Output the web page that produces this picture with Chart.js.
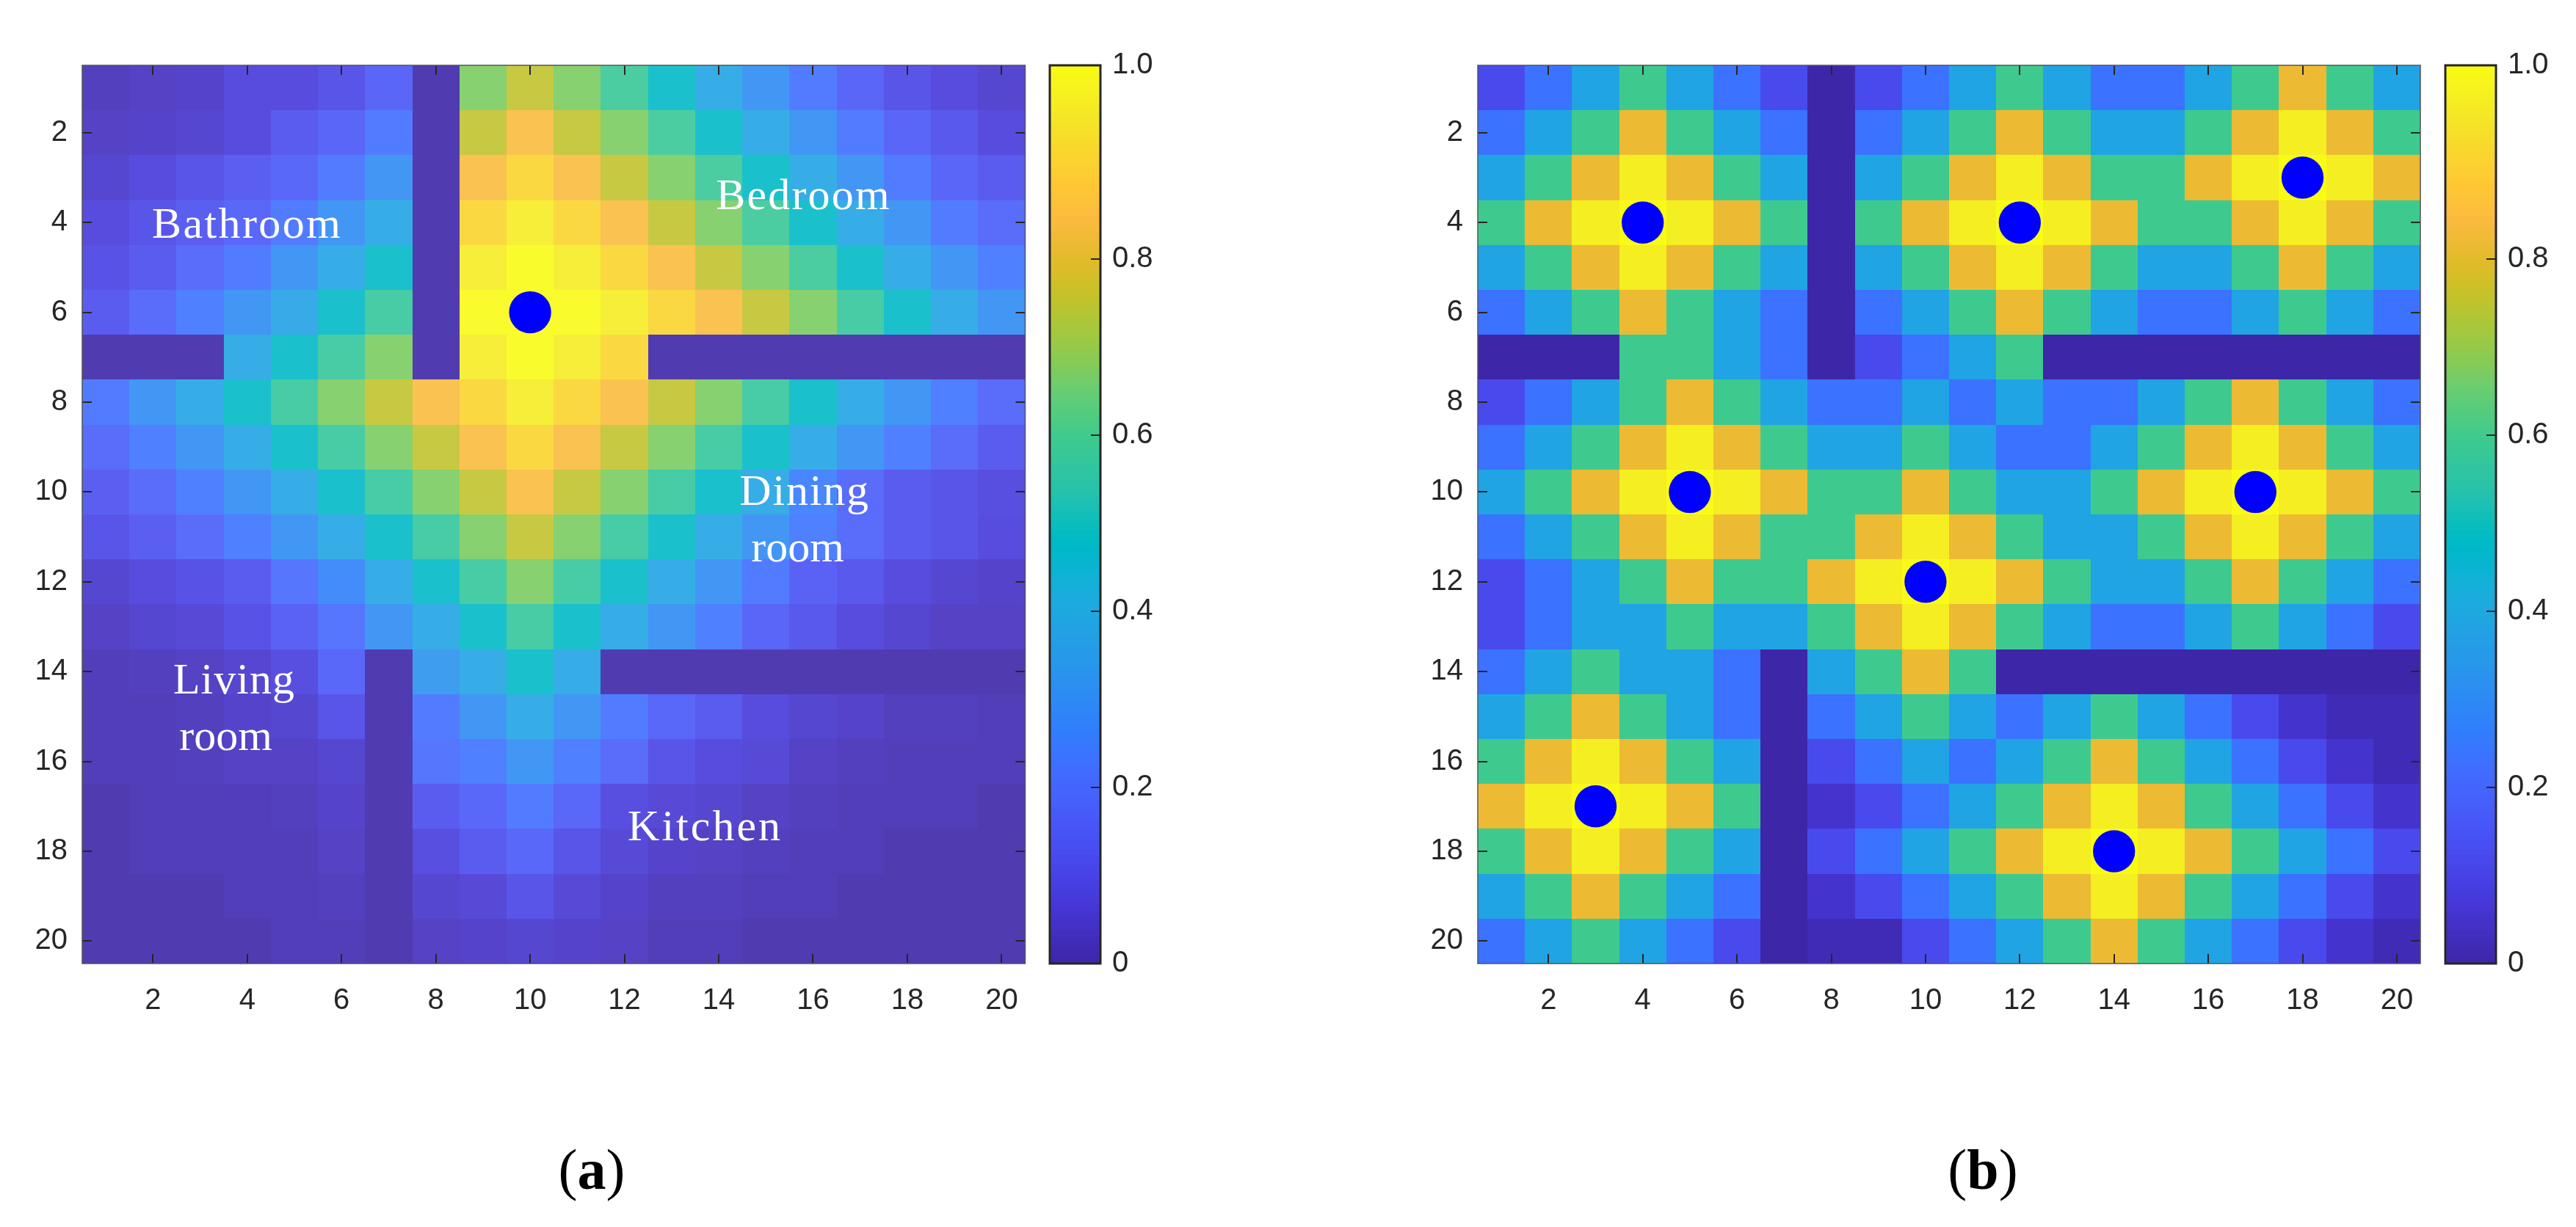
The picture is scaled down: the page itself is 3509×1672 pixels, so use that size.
<!DOCTYPE html>
<html lang="en">

<head>
    <meta charset="UTF-8">
    <title>Heat maps (a) and (b)</title>
    <script src="https://cdn.jsdelivr.net/npm/chart.js"></script>
    <style>
        html, body { margin: 0; background: #fff; }
        .page { position: relative; width: 3509px; height: 1672px; overflow: hidden; background: #fff; }
        canvas { position: absolute; top: 0; }
        #chartA { left: 0; }
        #barA { left: 1400px; }
        #chartB { left: 1900px; }
        #barB { left: 3300px; }
        .caption { position: absolute; top: 1546px; width: 300px; text-align: center; color: #000;
            font: 78px "Liberation Serif", serif; line-height: 96px; }
    </style>
</head>

<body>
    <div class="page">
        <canvas id="chartA" width="1400" height="1400"></canvas>
        <canvas id="barA" width="200" height="1400"></canvas>
        <canvas id="chartB" width="1400" height="1400"></canvas>
        <canvas id="barB" width="200" height="1400"></canvas>
        <div class="caption" style="left:656px">(<b>a</b>)</div>
        <div class="caption" style="left:2551px">(<b>b</b>)</div>
    </div>

<script>
// axis ticks
const tickValues = [2, 4, 6, 8, 10, 12, 14, 16, 18, 20];
const barTickValues = [0, 0.2, 0.4, 0.6, 0.8, 1.02];
const barTickLabels = ['0', '0.2', '0.4', '0.6', '0.8', '1.0'];

// access points, [column, row]
const pointsA = [[10, 6]];
const pointsB = [[4, 4], [12, 4], [18, 3], [5, 10], [17, 10], [10, 12], [3, 17], [14, 18]];

// (a), row 1 on top
const mapA = [
    [.02, .03, .04, .07, .07, .1, .15, 0, .66, .74, .66, .57, .47, .38, .3, .22, .15, .1, .07, .05],
    [.03, .04, .05, .07, .12, .15, .22, 0, .74, .83, .74, .66, .57, .47, .38, .3, .22, .15, .11, .07],
    [.05, .07, .1, .13, .16, .22, .3, 0, .83, .9, .83, .74, .66, .57, .47, .38, .3, .22, .15, .12],
    [.07, .1, .13, .16, .22, .3, .38, 0, .9, .96, .9, .83, .74, .66, .57, .47, .38, .3, .22, .17],
    [.09, .12, .17, .22, .3, .38, .47, 0, .96, 1, .96, .9, .83, .74, .66, .57, .47, .38, .3, .23],
    [.12, .17, .23, .3, .37, .47, .56, 0, 1, 1, 1, .96, .9, .83, .74, .66, .56, .47, .38, .3],
    [0, 0, 0, .38, .47, .56, .66, 0, .96, 1, .96, .9, 0, 0, 0, 0, 0, 0, 0, 0],
    [.22, .3, .38, .47, .56, .66, .74, .83, .9, .96, .9, .83, .74, .66, .56, .47, .38, .3, .23, .17],
    [.17, .23, .3, .38, .47, .56, .66, .74, .83, .9, .83, .74, .66, .56, .47, .38, .3, .23, .17, .12],
    [.13, .17, .23, .3, .38, .47, .56, .66, .74, .83, .74, .66, .56, .47, .38, .25, .17, .12, .1, .08],
    [.1, .13, .17, .23, .3, .38, .47, .56, .66, .74, .66, .56, .47, .38, .3, .23, .17, .12, .1, .07],
    [.05, .07, .09, .12, .2, .27, .38, .47, .56, .66, .56, .47, .38, .3, .22, .14, .11, .07, .05, .04],
    [.03, .05, .06, .09, .14, .2, .3, .38, .47, .56, .47, .38, .3, .23, .15, .11, .07, .05, .03, .03],
    [.01, .02, .03, .05, .08, .16, 0, .32, .38, .47, .38, 0, 0, 0, 0, 0, 0, 0, 0, 0],
    [.01, .01, .02, .04, .05, .1, 0, .22, .3, .38, .3, .22, .16, .12, .07, .05, .04, .02, .02, .01],
    [.01, .01, .02, .03, .03, .05, 0, .2, .23, .3, .23, .17, .1, .07, .06, .03, .02, .01, .01, .01],
    [0, .01, .01, .01, .02, .04, 0, .12, .16, .22, .16, .08, .06, .05, .03, .02, .01, .01, .01, 0],
    [0, .01, .01, .01, .01, .03, 0, .08, .12, .16, .1, .06, .04, .03, .02, .01, .01, 0, 0, 0],
    [0, 0, 0, .01, .01, .02, 0, .05, .06, .1, .06, .04, .02, .02, .01, .01, 0, 0, 0, 0],
    [0, 0, 0, 0, .01, .01, 0, .03, .04, .05, .04, .03, .01, .01, 0, 0, 0, 0, 0, 0]
];

// (b) has only a few levels, named here so the rows stay readable
const P = 1, Y = .965, G = .805, T = .585, C = .38, B = .23, I = .12, D = .05, d = .02, W = 0;
const mapB = [
    [I, B, C, T, C, B, I, W, I, B, C, T, C, B, B, C, T, G, T, C],
    [B, C, T, G, T, C, B, W, B, C, T, G, T, C, C, T, G, Y, G, T],
    [C, T, G, Y, G, T, C, W, C, T, G, Y, G, T, T, G, Y, P, Y, G],
    [T, G, Y, P, Y, G, T, W, T, G, Y, P, Y, G, T, T, G, Y, G, T],
    [C, T, G, Y, G, T, C, W, C, T, G, Y, G, T, C, C, T, G, T, C],
    [B, C, T, G, T, C, B, W, B, C, T, G, T, C, B, B, C, T, C, B],
    [W, W, W, T, T, C, B, W, I, B, C, T, W, W, W, W, W, W, W, W],
    [I, B, C, T, G, T, C, B, B, C, B, C, B, B, C, T, G, T, C, B],
    [B, C, T, G, Y, G, T, C, C, T, C, B, B, C, T, G, Y, G, T, C],
    [C, T, G, Y, P, Y, G, T, T, G, T, C, C, T, G, Y, P, Y, G, T],
    [B, C, T, G, Y, G, T, T, G, Y, G, T, C, C, T, G, Y, G, T, C],
    [I, B, C, T, G, T, T, G, Y, P, Y, G, T, C, C, T, G, T, C, B],
    [I, B, C, C, T, C, C, T, G, Y, G, T, C, B, B, C, T, C, B, I],
    [B, C, T, C, C, B, W, C, T, G, T, W, W, W, W, W, W, W, W, W],
    [C, T, G, T, C, B, W, B, C, T, C, B, C, T, C, B, I, D, d, d],
    [T, G, Y, G, T, C, W, I, B, C, B, C, T, G, T, C, B, I, D, d],
    [G, Y, P, Y, G, T, W, D, I, B, C, T, G, Y, G, T, C, B, I, D],
    [T, G, Y, G, T, C, W, I, B, C, T, G, Y, P, Y, G, T, C, B, I],
    [C, T, G, T, C, B, W, D, I, B, C, T, G, Y, G, T, C, B, I, D],
    [B, C, T, C, B, I, W, d, d, I, B, C, T, G, T, C, B, I, D, d]
];

// room names on (a), x and y are on the left end of the baseline
const roomLabels = [
    { text: 'Bathroom', x: 1.98, y: 4.34, spacing: 2.4 },
    { text: 'Bedroom', x: 13.94, y: 3.7, spacing: 2.2 },
    { text: 'Dining', x: 14.44, y: 10.28, spacing: 1.8 },
    { text: 'room', x: 14.69, y: 11.55, spacing: 0 },
    { text: 'Living', x: 2.43, y: 14.49, spacing: 1 },
    { text: 'room', x: 2.56, y: 15.75, spacing: 0 },
    { text: 'Kitchen', x: 12.07, y: 17.75, spacing: 3 }
];

// parula colormap
const parula = [
    [.2422, .1504, .6603], [.2504, .1650, .7076], [.2578, .1818, .7511], [.2647, .1978, .7952],
    [.2706, .2147, .8364], [.2751, .2342, .8710], [.2783, .2559, .8991], [.2803, .2782, .9221],
    [.2813, .3006, .9414], [.2810, .3228, .9579], [.2795, .3447, .9717], [.2760, .3667, .9829],
    [.2699, .3892, .9906], [.2602, .4123, .9952], [.2440, .4358, .9988], [.2206, .4603, .9973],
    [.1963, .4847, .9892], [.1834, .5074, .9798], [.1786, .5289, .9682], [.1764, .5499, .9520],
    [.1687, .5703, .9359], [.1540, .5902, .9218], [.1460, .6091, .9079], [.1380, .6276, .8973],
    [.1248, .6459, .8883], [.1113, .6635, .8763], [.0952, .6798, .8598], [.0689, .6948, .8394],
    [.0297, .7082, .8163], [.0036, .7197, .7917], [.0067, .7312, .7660], [.0433, .7411, .7394],
    [.0964, .7500, .7113], [.1408, .7584, .6820], [.1717, .7670, .6517], [.1938, .7758, .6209],
    [.2161, .7843, .5886], [.2470, .7918, .5557], [.2906, .7973, .5216], [.3406, .8008, .4881],
    [.3909, .8029, .4532], [.4456, .8024, .4172], [.5044, .7993, .3480], [.5616, .7942, .3045],
    [.6174, .7876, .2612], [.6720, .7793, .2227], [.7242, .7698, .1910], [.7738, .7598, .1646],
    [.8203, .7498, .1535], [.8634, .7406, .1596], [.9035, .7330, .1774], [.9393, .7288, .2100],
    [.9728, .7298, .2394], [.9956, .7434, .2371], [.9970, .7659, .2199], [.9952, .7861, .1990],
    [.9892, .8137, .1885], [.9786, .8386, .1766], [.9676, .8639, .1643], [.9610, .8890, .1537],
    [.9597, .9135, .1423], [.9628, .9373, .1265], [.9691, .9606, .1064], [.9769, .9839, .0805]
];

function corDoValor(v, alpha) {
    const t = Math.min(Math.max(v, 0), 1) * (parula.length - 1);
    const i = Math.min(Math.floor(t), parula.length - 2);
    const f = t - i;
    const rgb = [0, 1, 2].map(k => Math.round(255 * (parula[i][k] + (parula[i + 1][k] - parula[i][k]) * f)));
    return `rgba(${rgb[0]}, ${rgb[1]}, ${rgb[2]}, ${alpha})`;
}

function celulas(map) {
    const out = [];
    map.forEach((row, r) => row.forEach((v, c) => out.push({ x: c + 1, y: r + 1, v: v })));
    return out;
}

// cells are drawn from the dataset through the scales, edges rounded so no seams show
const cellPlugin = {
    id: 'cellPlugin',
    beforeDatasetsDraw(chart) {
        const ctx = chart.ctx;
        const xs = chart.scales.x, ys = chart.scales.y;
        chart.data.datasets.forEach(ds => {
            if (!ds.cellW) return;
            ds.data.forEach(p => {
                const x0 = Math.round(xs.getPixelForValue(p.x - ds.cellW / 2));
                const x1 = Math.round(xs.getPixelForValue(p.x + ds.cellW / 2));
                const y0 = Math.round(ys.getPixelForValue(p.y - ds.cellH / 2));
                const y1 = Math.round(ys.getPixelForValue(p.y + ds.cellH / 2));
                ctx.fillStyle = corDoValor(p.v, ds.alpha);
                ctx.fillRect(Math.min(x0, x1), Math.min(y0, y1), Math.abs(x1 - x0), Math.abs(y1 - y0));
            });
        });
    }
};

// MATLAB style box: frame and inward ticks
const framePlugin = {
    id: 'framePlugin',
    afterDatasetsDraw(chart, args, opts) {
        const ctx = chart.ctx;
        const a = chart.chartArea;
        ctx.save();
        ctx.strokeStyle = '#262626';
        ctx.lineWidth = 2;
        ctx.beginPath();
        if (opts.allSides) {
            chart.scales.x.ticks.forEach(t => {
                const px = Math.round(chart.scales.x.getPixelForValue(t.value));
                ctx.moveTo(px, a.top); ctx.lineTo(px, a.top + 13);
                ctx.moveTo(px, a.bottom); ctx.lineTo(px, a.bottom - 13);
            });
        }
        chart.scales.y.ticks.forEach(t => {
            const py = Math.round(chart.scales.y.getPixelForValue(t.value));
            if (opts.allSides) {
                ctx.moveTo(a.left, py); ctx.lineTo(a.left + 13, py);
            }
            ctx.moveTo(a.right, py); ctx.lineTo(a.right - 13, py);
        });
        ctx.stroke();
        ctx.strokeStyle = opts.color;
        ctx.lineWidth = opts.width;
        ctx.strokeRect(a.left, a.top, a.right - a.left, a.bottom - a.top);
        ctx.restore();
    }
};

const labelPlugin = {
    id: 'labelPlugin',
    afterDatasetsDraw(chart, args, opts) {
        if (!opts.labels) return;
        const ctx = chart.ctx;
        ctx.save();
        ctx.fillStyle = '#fff';
        ctx.font = '60px "Liberation Serif", serif';
        ctx.textBaseline = 'alphabetic';
        opts.labels.forEach(l => {
            ctx.letterSpacing = l.spacing + 'px';
            ctx.fillText(l.text, chart.scales.x.getPixelForValue(l.x), chart.scales.y.getPixelForValue(l.y));
        });
        ctx.restore();
    }
};

Chart.register(cellPlugin, framePlugin, labelPlugin);

const fonteEixo = { family: '"Liberation Sans", Arial, sans-serif', size: 40 };

function desenhaMapa(id, map, points, alpha, labels, margins) {
    return new Chart(document.getElementById(id), {
        type: 'scatter',
        data: {
            datasets: [
                {
                    data: points.map(p => ({ x: p[0], y: p[1] })),
                    backgroundColor: '#0000ff',
                    borderWidth: 0,
                    pointRadius: 28.7
                },
                {
                    data: celulas(map),
                    pointRadius: 0,
                    cellW: 1, cellH: 1, alpha: alpha
                }
            ]
        },
        options: {
            responsive: false,
            animation: false,
            devicePixelRatio: 1,
            layout: { autoPadding: false, padding: { top: 89, right: margins.right } },
            plugins: {
                legend: { display: false },
                tooltip: { enabled: false },
                framePlugin: { allSides: true, color: '#555555', width: 1.5 },
                labelPlugin: { labels: labels }
            },
            scales: {
                x: {
                    type: 'linear', min: 0.5, max: 20.5,
                    afterBuildTicks: s => { s.ticks = tickValues.map(v => ({ value: v })); },
                    // labels may hang over the plot edge, the plot size stays fixed
                    afterFit: s => { s.height = 87; s.paddingLeft = 0; s.paddingRight = 0; },
                    grid: { display: false, drawTicks: false },
                    border: { display: false },
                    ticks: { font: fonteEixo, color: '#262626', padding: 27, maxRotation: 0, autoSkip: false, callback: v => v }
                },
                y: {
                    type: 'linear', min: 0.5, max: 20.5, reverse: true,
                    afterBuildTicks: s => { s.ticks = tickValues.map(v => ({ value: v })); },
                    afterFit: s => { s.width = margins.left; s.paddingTop = 0; s.paddingBottom = 0; },
                    grid: { display: false, drawTicks: false },
                    border: { display: false },
                    ticks: { font: fonteEixo, color: '#262626', padding: 20, autoSkip: false, callback: v => v }
                }
            }
        }
    });
}

function desenhaBarra(id, plotLeft) {
    // colour bar limit is a little over 1, the top tick sits on the edge
    const barMax = 1.02;
    const bandas = [];
    for (let i = 0; i < 256; i++) {
        bandas.push({ x: 0.5, y: (i + 0.5) / 256 * barMax, v: i / 255 });
    }
    return new Chart(document.getElementById(id), {
        type: 'scatter',
        data: {
            datasets: [{
                data: bandas,
                pointRadius: 0,
                // bands overlap a little, they are opaque and this closes the seams
                cellW: 1, cellH: barMax / 256 * 1.6, alpha: 1
            }]
        },
        options: {
            responsive: false,
            animation: false,
            devicePixelRatio: 1,
            layout: { autoPadding: false, padding: { top: 89, left: plotLeft } },
            plugins: {
                legend: { display: false },
                tooltip: { enabled: false },
                framePlugin: { allSides: false, color: '#262626', width: 3 }
            },
            scales: {
                x: {
                    type: 'linear', min: 0, max: 1,
                    afterFit: s => { s.height = 87; s.paddingLeft = 0; s.paddingRight = 0; },
                    grid: { display: false, drawTicks: false },
                    border: { display: false },
                    ticks: { display: false }
                },
                y: {
                    type: 'linear', position: 'right', min: 0, max: barMax,
                    afterBuildTicks: s => { s.ticks = barTickValues.map(v => ({ value: v })); },
                    afterFit: s => { s.width = 200 - plotLeft - 69; s.paddingTop = 0; s.paddingBottom = 0; },
                    grid: { display: false, drawTicks: false },
                    border: { display: false },
                    ticks: {
                        font: fonteEixo, color: '#262626', padding: 16, autoSkip: false,
                        callback: (v, i) => barTickLabels[i]
                    }
                }
            }
        }
    });
}

desenhaMapa('chartA', mapA, pointsA, 0.9, roomLabels, { left: 112, right: 3.5 });
desenhaBarra('barA', 30);
desenhaMapa('chartB', mapB, pointsB, 1, null, { left: 113, right: 3 });
desenhaBarra('barB', 31);
</script>
</body>

</html>
